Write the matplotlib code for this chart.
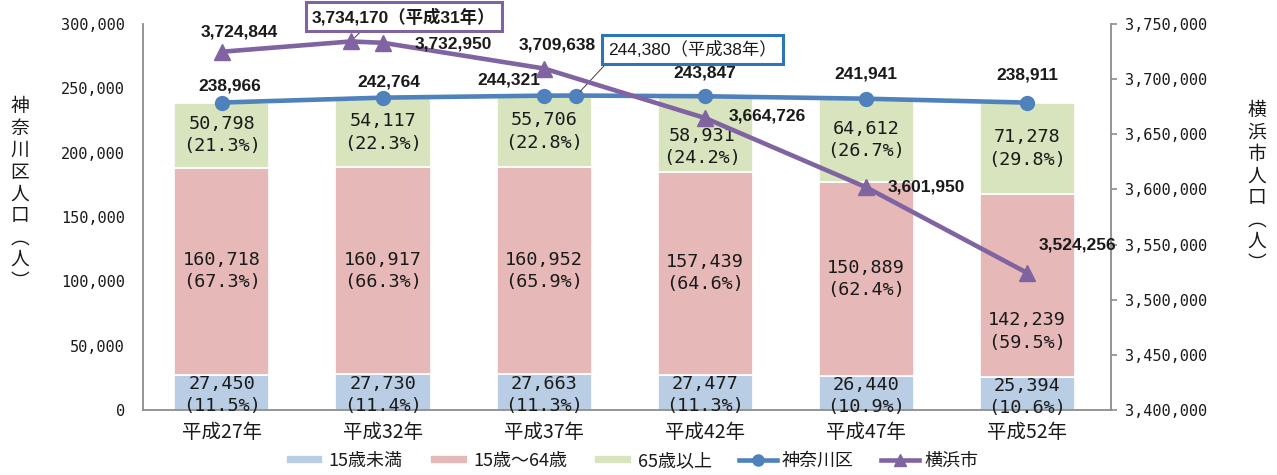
import matplotlib
matplotlib.use("Agg")
import matplotlib.pyplot as plt
from matplotlib import font_manager
from matplotlib.ticker import FuncFormatter, MultipleLocator

# ---------------- data ----------------
categories = ["平成27年", "平成32年", "平成37年", "平成42年", "平成47年", "平成52年"]
bar_years = [27, 32, 37, 42, 47, 52]
under15 = [27450, 27730, 27663, 27477, 26440, 25394]
age15_64 = [160718, 160917, 160952, 157439, 150889, 142239]
over65 = [50798, 54117, 55706, 58931, 64612, 71278]
under15_pct = [11.5, 11.4, 11.3, 11.3, 10.9, 10.6]
age15_64_pct = [67.3, 66.3, 65.9, 64.6, 62.4, 59.5]
over65_pct = [21.3, 22.3, 22.8, 24.2, 26.7, 29.8]

kanagawa_years = [27, 32, 37, 38, 42, 47, 52]
kanagawa = [238966, 242764, 244321, 244380, 243847, 241941, 238911]
yokohama_years = [27, 31, 32, 37, 42, 47, 52]
yokohama = [3724844, 3734170, 3732950, 3709638, 3664726, 3601950, 3524256]

series_names = ["15歳未満", "15歳～64歳", "65歳以上", "神奈川区", "横浜市"]

# ---------------- fonts ----------------
names = {f.name for f in font_manager.fontManager.ttflist}
NARROW = "Liberation Sans Narrow" if "Liberation Sans Narrow" in names else "Liberation Sans"
CJK = "Noto Sans CJK JP"
MONO = "DejaVu Sans Mono"
plt.rcParams["font.family"] = [CJK, "DejaVu Sans"]

C_U15 = "#b9cde5"
C_MID = "#e6b9b8"
C_O65 = "#d7e4bd"
C_KAN = "#4f81bd"
C_YOK = "#8064a2"
SPINE = "#8c8c8c"
TXT = "#1a1a1a"

fig = plt.figure(figsize=(12.77, 4.75), dpi=100)
ax = fig.add_axes([143 / 1277, 65 / 475, (1111 - 143) / 1277, (410 - 24) / 475])
ax2 = ax.twinx()

bw = 2.95
b1 = ax.bar(bar_years, under15, width=bw, color=C_U15, edgecolor="white", linewidth=1.2, zorder=2)
bottom2 = under15
b2 = ax.bar(bar_years, age15_64, width=bw, bottom=bottom2, color=C_MID, edgecolor="white", linewidth=1.2, zorder=2)
bottom3 = [a + b for a, b in zip(under15, age15_64)]
b3 = ax.bar(bar_years, over65, width=bw, bottom=bottom3, color=C_O65, edgecolor="white", linewidth=1.2, zorder=2)

ax.set_xlim(24.55, 54.6)
ax.set_ylim(0, 300000)
ax2.set_ylim(3400000, 3750000)

# bar labels
lab_kw = dict(ha="center", va="center", fontsize=13.3, family=[MONO], color=TXT,
              linespacing=1.3, textcoords="offset pixels", zorder=3)
for i, x in enumerate(bar_years):
    ax.annotate(f"{under15[i]:,}\n({under15_pct[i]}%)", (x, under15[i] / 2), xytext=(0, -3), **lab_kw)
    ymid = under15[i] + age15_64[i] / 2
    if i == 5:
        ymid = under15[i] + age15_64[i] * 0.25
    ax.annotate(f"{age15_64[i]:,}\n({age15_64_pct[i]}%)", (x, ymid), xytext=(0, 0), **lab_kw)
    dx, dy = (-3, -13) if i == 3 else (0, 0)
    ax.annotate(f"{over65[i]:,}\n({over65_pct[i]}%)", (x, bottom3[i] + over65[i] / 2), xytext=(dx, dy), **lab_kw)

# Kanagawa line
lk, = ax.plot(kanagawa_years, kanagawa, color=C_KAN, lw=3.3, marker="o", markersize=10, zorder=4)
kan_off = [(8, 17), (6, 16), (-35, 16), None, (0, 23), (0, 25), (0, 28)]
for i, (x, v) in enumerate(zip(kanagawa_years, kanagawa)):
    off = kan_off[i]
    if off is None:
        ax.annotate(f"{v:,}（平成{x}年）", (x, v), xytext=(116, 46), textcoords="offset pixels",
                    ha="center", va="center", fontsize=12.5, family=[NARROW, CJK], color=TXT, zorder=6,
                    bbox=dict(boxstyle="square,pad=0.35", fc="white", ec="#2e75b6", lw=2.2),
                    arrowprops=dict(arrowstyle="-", color="#404040", lw=0.7, shrinkA=0, shrinkB=4,
                                    relpos=(0.02, 0.0)))
    else:
        ax.annotate(f"{v:,}", (x, v), xytext=off, textcoords="offset pixels", ha="center", va="center",
                    fontsize=12.5, fontweight="bold", family=[NARROW, CJK], color=TXT, zorder=5)

# Yokohama line
ly, = ax2.plot(yokohama_years, yokohama, color=C_YOK, lw=3.3, marker="^", markersize=11, zorder=4)
yok_off = [(17, 20), None, (70, -1), (13, 24), (62, 2), (60, 0), (50, 28)]
for i, (x, v) in enumerate(zip(yokohama_years, yokohama)):
    off = yok_off[i]
    if off is None:
        ax2.annotate(f"{v:,}（平成{x}年）", (x, v), xytext=(53, 25), textcoords="offset pixels",
                     ha="center", va="center", fontsize=12.5, fontweight="bold", family=[NARROW, CJK],
                     color=TXT, zorder=6,
                     bbox=dict(boxstyle="square,pad=0.35", fc="white", ec=C_YOK, lw=2.2),
                     arrowprops=dict(arrowstyle="-", color="#404040", lw=0.7, shrinkA=0, shrinkB=4,
                                     relpos=(0.3, 0.0)))
    else:
        ax2.annotate(f"{v:,}", (x, v), xytext=off, textcoords="offset pixels", ha="center", va="center",
                     fontsize=12.5, fontweight="bold", family=[NARROW, CJK], color=TXT, zorder=5)

# axes styling
ax.set_xticks(bar_years)
ax.set_xticklabels(categories, fontsize=14, family=[CJK], color=TXT)
ax.tick_params(axis="x", length=0, pad=9)
ax.yaxis.set_major_locator(MultipleLocator(50000))
ax.yaxis.set_major_formatter(FuncFormatter(lambda v, p: f"{int(v):,}"))
ax.tick_params(axis="y", length=0, pad=13, labelsize=11, labelcolor=TXT)
for t in ax.get_yticklabels():
    t.set_family([MONO])
ax2.yaxis.set_major_locator(MultipleLocator(50000))
ax2.yaxis.set_major_formatter(FuncFormatter(lambda v, p: f"{int(v):,}"))
ax2.tick_params(axis="y", length=4, width=1.2, color=SPINE, pad=6, labelsize=11, labelcolor=TXT)
for t in ax2.get_yticklabels():
    t.set_family([MONO])

for a in (ax, ax2):
    a.spines["top"].set_visible(False)
    for s in ("left", "right", "bottom"):
        a.spines[s].set_color(SPINE)
        a.spines[s].set_linewidth(1.3)
ax.spines["right"].set_visible(False)
ax2.spines["left"].set_visible(False)
ax2.spines["bottom"].set_visible(False)
ax2.patch.set_visible(False)

# axis titles (vertical writing)
fig.text(20 / 1277, 1 - 194 / 475, "\n".join("神奈川区人口︵人︶"), ha="center", va="center",
         fontsize=13.5, family=[CJK], color=TXT, linespacing=1.05)
fig.text(1257 / 1277, 1 - 187 / 475, "\n".join("横浜市人口︵人︶"), ha="center", va="center",
         fontsize=13.5, family=[CJK], color=TXT, linespacing=1.05)

# legend
leg = fig.legend([b1, b2, b3, lk, ly], series_names, loc="center", bbox_to_anchor=(632 / 1277, 14 / 475),
                 ncol=5, frameon=False, fontsize=13, handlelength=2.1, handleheight=0.4,
                 columnspacing=1.5, handletextpad=0.3, markerscale=0.8)
for t in leg.get_texts():
    t.set_color(TXT)

fig.savefig("out.png", dpi=100)
